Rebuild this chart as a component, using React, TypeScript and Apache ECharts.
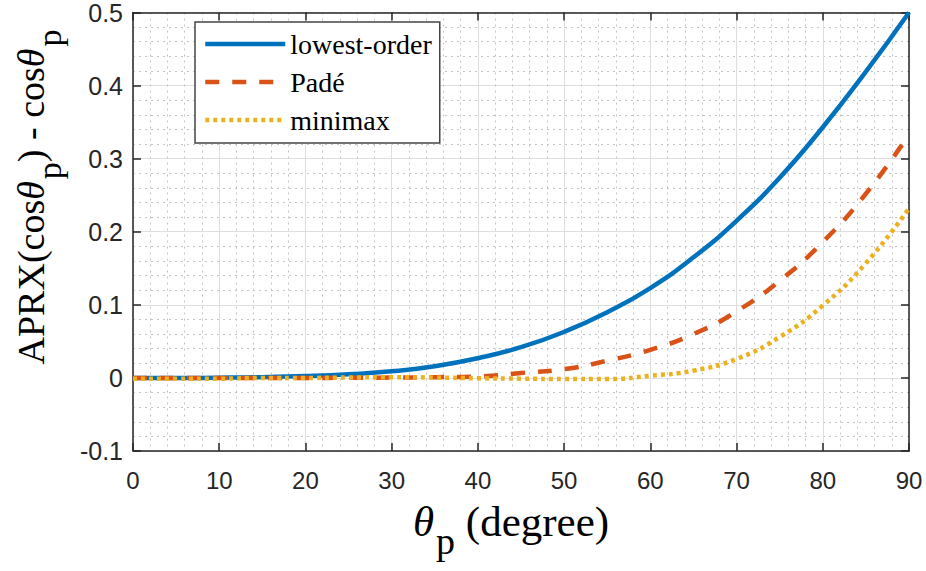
import React, { useEffect, useRef } from "react";
import * as echarts from "echarts";

// angle θp in degrees
const thetaDeg = [0, 5, 10, 15, 20, 25, 30, 35, 40, 45, 50, 55, 60, 65, 70, 75, 80, 85, 90];
// APRX(cosθp) - cosθp
const lowestOrder = [0, 0, 0.0003, 0.001, 0.0025, 0.005, 0.009, 0.016, 0.027, 0.042, 0.063, 0.09, 0.123, 0.165, 0.215, 0.274, 0.343, 0.419, 0.5];
const pade = [0, 0, 0, 0, 0, 0.0002, 0.0005, 0.001, 0.002, 0.0068, 0.012, 0.0235, 0.0385, 0.06, 0.091, 0.133, 0.186, 0.252, 0.333];
const minimax = [-0.001, -0.001, -0.001, 0, 0, 0.0005, 0.001, 0.0005, -0.0005, -0.001, -0.0015, -0.0015, 0.003, 0.01, 0.026, 0.056, 0.099, 0.157, 0.232];
const seriesNames = ["lowest-order", "Padé", "minimax"];
const seriesColors = ["#0072BD", "#D95319", "#EDB120"];

const X_MIN = 0, X_MAX = 90, X_STEP = 10;
const Y_MIN = -0.1, Y_MAX = 0.5, Y_STEP = 0.1;

export default function App() {
  const ref = useRef<HTMLDivElement>(null);
  useEffect(() => {
    const chart = echarts.init(ref.current!, null, { renderer: "svg" });
    const axisColor = "#262626";
    const pair = (ys: number[]) => thetaDeg.map((x, i) => [x, ys[i]]);
    const serif = "'Liberation Serif', 'Times New Roman', serif";
    const sans = "'Liberation Sans', Arial, sans-serif";

    const baseX = {
      type: "value" as const,
      min: X_MIN,
      max: X_MAX,
      interval: X_STEP,
      axisLine: { show: true, onZero: false, lineStyle: { color: axisColor, width: 1.5 } },
      axisTick: { show: true, inside: true, length: 8, lineStyle: { color: axisColor, width: 1.5 } },
    };
    const baseY = {
      type: "value" as const,
      min: Y_MIN,
      max: Y_MAX,
      interval: Y_STEP,
      axisLine: { show: true, onZero: false, lineStyle: { color: axisColor, width: 1.5 } },
      axisTick: { show: true, inside: true, length: 8, lineStyle: { color: axisColor, width: 1.5 } },
    };

    const lineStyles = [
      { width: 4.5, type: "solid" as any },
      { width: 4.5, type: [14, 13] as any, cap: "butt" as any },
      { width: 4.5, type: [4, 4] as any, cap: "butt" as any },
    ];
    const datas = [lowestOrder, pade, minimax];
    const legendText = { fontFamily: serif, fontSize: 28, color: "#000", lineHeight: 30 };

    chart.setOption({
      animation: false,
      backgroundColor: "#ffffff",
      grid: { left: 133, top: 10, right: 17, bottom: 120, containLabel: false },
      xAxis: [
        {
          ...baseX,
          position: "bottom",
          axisLabel: { show: true, fontFamily: sans, fontSize: 24, color: axisColor, margin: 17 },
          splitLine: { show: true, lineStyle: { color: "#dedede", width: 1 } },
          minorTick: { show: false, splitNumber: 5 },
          minorSplitLine: { show: true, lineStyle: { color: "#c4c4c4", width: 1, type: [2, 4] } },
        },
        {
          ...baseX,
          position: "top",
          axisLabel: { show: false },
          splitLine: { show: false },
        },
      ],
      yAxis: [
        {
          ...baseY,
          position: "left",
          axisLabel: { show: true, fontFamily: sans, fontSize: 25, color: axisColor, margin: 10 },
          splitLine: { show: true, lineStyle: { color: "#dedede", width: 1 } },
          minorTick: { show: false, splitNumber: 5 },
          minorSplitLine: { show: true, lineStyle: { color: "#c4c4c4", width: 1, type: [2, 4] } },
        },
        {
          ...baseY,
          position: "right",
          axisLabel: { show: false },
          splitLine: { show: false },
        },
      ],
      legend: {
        show: true,
        orient: "vertical",
        left: 195,
        top: 22,
        padding: [7, 8, 8, 8],
        itemGap: 8,
        itemWidth: 80,
        itemHeight: 14,
        backgroundColor: "#ffffff",
        borderColor: "#444444",
        borderWidth: 1.5,
        borderRadius: 0,
        itemStyle: { opacity: 0 },
        lineStyle: { width: 4.5 },
        textStyle: legendText,
        data: seriesNames.map((name) => ({ name, textStyle: legendText })),
      },
      series: seriesNames.map((name, i) => ({
        name,
        type: "line",
        xAxisIndex: 0,
        yAxisIndex: 0,
        data: pair(datas[i]),
        smooth: 0.5,
        symbol: "none",
        showSymbol: false,
        color: seriesColors[i],
        lineStyle: { color: seriesColors[i], ...lineStyles[i] },
        z: 2 + i,
      })),
      graphic: [
        {
          type: "text",
          x: 511,
          y: 521,
          style: {
            text: "{it|θ}{sub|p}{n| (degree)}",
            align: "center",
            verticalAlign: "middle",
            fill: "#000",
            fontFamily: serif,
            fontSize: 43,
            rich: {
              n: { fontFamily: serif, fontSize: 43, fill: "#000" },
              it: { fontFamily: serif, fontSize: 43, fontStyle: "italic", fill: "#000" },
              sub: { fontFamily: serif, fontSize: 38, padding: [40, 0, 0, 2], fill: "#000" },
            },
          },
        },
        {
          type: "text",
          x: 31,
          y: 197,
          rotation: Math.PI / 2,
          style: {
            text: "{n|APRX(cos}{it|θ}{sub|p}{n|) - cos}{it|θ}{sub|p}",
            align: "center",
            verticalAlign: "middle",
            fill: "#000",
            fontFamily: serif,
            fontSize: 38,
            rich: {
              n: { fontFamily: serif, fontSize: 38, fill: "#000" },
              it: { fontFamily: serif, fontSize: 38, fontStyle: "italic", fill: "#000" },
              sub: { fontFamily: serif, fontSize: 34, padding: [36, 0, 0, 2], fill: "#000" },
            },
          },
        },
      ],
    });
    return () => chart.dispose();
  }, []);
  return <div ref={ref} style={{ position: "fixed", left: 0, top: 0, width: 926, height: 571 }} />;
}
